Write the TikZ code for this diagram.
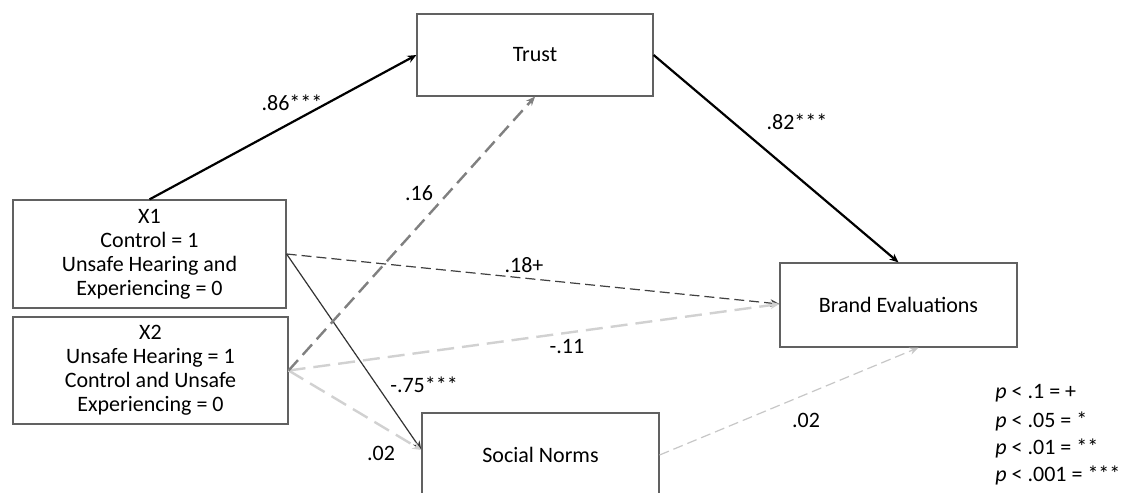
\documentclass[tikz,border=0pt]{standalone}
\usepackage{fontspec}
\setmainfont{Carlito}
\usetikzlibrary{arrows.meta}
\begin{document}
\begin{tikzpicture}[x=0.5pt,y=-0.5pt,
  txt/.style={font=\fontsize{11}{12}\selectfont},
  box/.style={txt,draw=black!62,line width=0.6pt,fill=white,inner sep=0pt,align=center},
  lbl/.style={txt,inner sep=0pt},
  tip/.style={-{Stealth[length=4.5pt,width=3.8pt]}},
  strong/.style={tip,black,line width=1.1pt},
  thinsolid/.style={tip,black!80,line width=0.6pt},
  thindash/.style={tip,black!75,line width=0.6pt,dash pattern=on 5pt off 2.5pt},
  thinlight/.style={tip,black!22,line width=0.6pt,dash pattern=on 5pt off 2.5pt},
  thickgray/.style={tip,black!50,line width=1.2pt,dash pattern=on 7pt off 3.5pt},
  thicklight/.style={tip,black!18,line width=1.2pt,dash pattern=on 8.5pt off 4pt}
]
\clip (0,0) rectangle (1137,493);
\fill[white] (0,0) rectangle (1137,493);

% boxes
\node[box,minimum width=118pt,minimum height=41pt] (trust) at (535,55) {Trust};
\node[box,minimum width=136.5pt,minimum height=54pt] (x1) at (149.5,254)
  {X1\\Control = 1\\Unsafe Hearing and\\Experiencing = 0};
\node[box,minimum width=137.5pt,minimum height=53.5pt] (x2) at (150.5,370.5)
  {X2\\Unsafe Hearing = 1\\Control and Unsafe\\Experiencing = 0};
\node[box,minimum width=118.5pt,minimum height=42pt] (sn) at (540.5,455) {Social Norms};
\node[box,minimum width=118.5pt,minimum height=42pt] (brand) at (898.5,305) {Brand Evaluations};

% anchors for connectors
\coordinate (snin) at ([yshift=2.5pt]sn.west);
\coordinate (brin) at ([yshift=0.5pt]brand.west);
\coordinate (brbot) at ([xshift=10pt]brand.south);

% connectors
\draw[strong] (x1.north) -- (trust.west);
\draw[strong] (trust.east) -- (brand.north);
\draw[thindash] (x1.east) -- (brin);
\draw[thinsolid] (x1.east) -- (snin);
\draw[thicklight] (x2.east) -- (brin);
\draw[thicklight] (x2.east) -- (snin);
\draw[thickgray] (x2.east) -- (trust.south);
\draw[thinlight] (sn.east) -- (brbot);

% labels
\node[lbl] (l86) at (292,103) {.86***};
\node[lbl] (l82) at (797,122) {.82***};
\node[lbl] (l16) at (419,193) {.16};
\node[lbl] (l18) at (524,265) {.18+};
\node[lbl] (l11) at (567,347) {-.11};
\node[lbl] (l75) at (424,385) {-.75***};
\node[lbl] (l02a) at (381,453) {.02};
\node[lbl] (l02b) at (806,420) {.02};

% legend
\node[lbl,anchor=west] (p1) at (995,393) {\textit{p} < .1 = +};
\node[lbl,anchor=west] (p2) at (995,421) {\textit{p} < .05 = *};
\node[lbl,anchor=west] (p3) at (995,448) {\textit{p} < .01 = **};
\node[lbl,anchor=west] (p4) at (995,475) {\textit{p} < .001 = ***};
\end{tikzpicture}
\end{document}
